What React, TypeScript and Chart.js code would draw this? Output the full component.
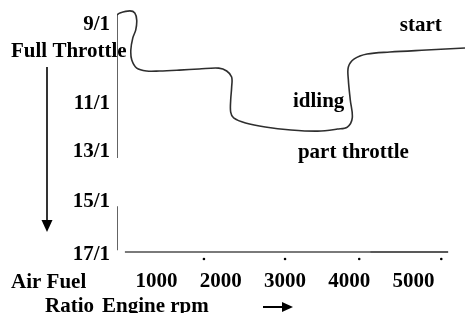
import React, { useEffect, useRef } from "react";
import { Chart, registerables } from "chart.js";

Chart.register(...registerables);

// Engine rpm (x) and air-fuel ratio (y, 9 = 9/1 ... 17 = 17/1) of the mixture curve
const curveRpm = [385, 431, 585, 662, 692, 677, 631, 600, 615, 692, 846, 1046, 1354, 1662, 1969, 2092, 2169, 2169, 2154, 2154, 2200, 2385, 2692, 3092, 3508, 3815, 3969, 4046, 4015, 3985, 3985, 4077, 4277, 4631, 5200, 5800];
const curveAfr = [8.65, 8.58, 8.51, 8.58, 8.83, 9.17, 9.45, 9.87, 10.22, 10.5, 10.6, 10.6, 10.57, 10.53, 10.5, 10.6, 10.81, 11.16, 11.61, 12.03, 12.23, 12.41, 12.55, 12.65, 12.69, 12.62, 12.55, 12.23, 11.61, 10.91, 10.46, 10.18, 10.01, 9.94, 9.87, 9.8];

// axis ticks
const xTickValues = [1000, 2000, 3000, 4000, 5000];
const yTickValues = [9, 11.75, 13.4, 15.15, 17];
const yTickLabels = ["9/1", "11/1", "13/1", "15/1", "17/1"];

// hand-drawn axis pieces and marks
const axisRpm = 385;
const vAxisUpper = [8.65, 13.63];
const vAxisLower = [15.3, 16.83];
const hAxisAfr = 16.896;
const hAxisGrayRpm = [508, 4323];
const hAxisBlackRpm = [4323, 5538];
const dotRpm = [1738, 3000, 4154, 5431];
const dotAfr = 17.14;

// in-plot labels (left edge rpm, baseline afr)
const noteTexts = ["start", "idling", "part throttle"];
const noteRpm = [4785, 3123, 3200];
const noteAfr = [9.21, 11.85, 13.63];

const FONT_FAMILY = '"Liberation Serif", "Times New Roman", serif';
const FONT_SIZE = 21;

const annotations = {
  id: "annotations",
  afterDatasetsDraw(chart: any) {
    const { ctx } = chart;
    const xs = chart.scales.x;
    const ys = chart.scales.y;
    ctx.save();
    ctx.fillStyle = "#000";
    ctx.strokeStyle = "#000";
    ctx.font = `bold ${FONT_SIZE}px ${FONT_FAMILY}`;
    ctx.textAlign = "left";
    ctx.textBaseline = "alphabetic";
    noteTexts.forEach((t, i) => {
      ctx.fillText(t, xs.getPixelForValue(noteRpm[i]), ys.getPixelForValue(noteAfr[i]));
    });
    // outer labels
    ctx.fillText("Full Throttle", 11, ys.getPixelForValue(10.11));
    ctx.fillText("Air Fuel", 11, xs.top + 26);
    ctx.fillText("Ratio", 45, chart.height - 1);
    ctx.fillText("Engine rpm", 102, chart.height - 1);
    // down arrow
    const ax = 47;
    const ay0 = ys.getPixelForValue(10.46);
    const ay1 = ys.getPixelForValue(16.2);
    ctx.lineWidth = 1.6;
    ctx.beginPath();
    ctx.moveTo(ax, ay0);
    ctx.lineTo(ax, ay1 - 10);
    ctx.stroke();
    ctx.beginPath();
    ctx.moveTo(ax - 5.5, ay1 - 12);
    ctx.lineTo(ax + 5.5, ay1 - 12);
    ctx.lineTo(ax, ay1);
    ctx.closePath();
    ctx.fill();
    // right arrow
    const ry = chart.height - 6;
    ctx.lineWidth = 2;
    ctx.beginPath();
    ctx.moveTo(263, ry);
    ctx.lineTo(284, ry);
    ctx.stroke();
    ctx.beginPath();
    ctx.moveTo(282, ry - 5);
    ctx.lineTo(293, ry);
    ctx.lineTo(282, ry + 5);
    ctx.closePath();
    ctx.fill();
    ctx.restore();
  },
};

export default function App() {
  const ref = useRef<HTMLCanvasElement | null>(null);
  useEffect(() => {
    document.body.style.margin = "0";
    const canvas = ref.current;
    if (!canvas) return;
    const lineDs = (data: any[], color: string, width: number) => ({
      data,
      showLine: true,
      borderColor: color,
      borderWidth: width,
      pointRadius: 0,
      tension: 0,
      fill: false,
    });
    const chart = new Chart(canvas, {
      type: "scatter",
      data: {
        datasets: [
          {
            data: curveRpm.map((x, i) => ({ x, y: curveAfr[i] })),
            showLine: true,
            borderColor: "#2e2e2e",
            borderWidth: 1.6,
            pointRadius: 0,
            tension: 0.35,
            fill: false,
          } as any,
          lineDs(vAxisUpper.map((y) => ({ x: axisRpm, y })), "#111", 1.3),
          lineDs(vAxisLower.map((y) => ({ x: axisRpm, y })), "#111", 1.3),
          lineDs(hAxisGrayRpm.map((x) => ({ x, y: hAxisAfr })), "#7a7a7a", 2),
          lineDs(hAxisBlackRpm.map((x) => ({ x, y: hAxisAfr })), "#222", 1.3),
          {
            data: dotRpm.map((x) => ({ x, y: dotAfr })),
            showLine: false,
            pointRadius: 1.3,
            pointBorderWidth: 0,
            pointBackgroundColor: "#000",
          } as any,
        ],
      },
      options: {
        responsive: false,
        animation: false,
        devicePixelRatio: 1,
        layout: { padding: { top: 8, right: 0, bottom: 0, left: 0 } },
        plugins: { legend: { display: false }, tooltip: { enabled: false } },
        scales: {
          x: {
            type: "linear",
            min: 385,
            max: 5800,
            grid: { display: false, drawTicks: false },
            border: { display: false },
            afterBuildTicks: (s: any) => {
              s.ticks = xTickValues.map((value) => ({ value }));
            },
            afterFit: (s: any) => {
              s.height = 51;
              s.paddingLeft = 0;
              s.paddingRight = 0;
            },
            ticks: {
              color: "#000",
              padding: 7,
              maxRotation: 0,
              autoSkip: false,
              font: { family: FONT_FAMILY, size: FONT_SIZE, weight: "bold" },
              callback: (v: any) => String(v),
            },
          },
          y: {
            type: "linear",
            reverse: true,
            min: 8.409,
            max: 17.243,
            grid: { display: false, drawTicks: false },
            border: { display: false },
            afterBuildTicks: (s: any) => {
              s.ticks = yTickValues.map((value) => ({ value }));
            },
            afterFit: (s: any) => {
              s.width = 117;
              s.paddingTop = 0;
              s.paddingBottom = 0;
            },
            ticks: {
              color: "#000",
              padding: 7,
              autoSkip: false,
              font: { family: FONT_FAMILY, size: FONT_SIZE, weight: "bold" },
              callback: (_v: any, i: number) => yTickLabels[i],
            },
          },
        },
      } as any,
      plugins: [annotations],
    });
    return () => chart.destroy();
  }, []);
  return (
    <div style={{ position: "absolute", left: 0, top: 0, width: 469, height: 313, background: "#fff" }}>
      <canvas ref={ref} width={469} height={313} />
    </div>
  );
}
